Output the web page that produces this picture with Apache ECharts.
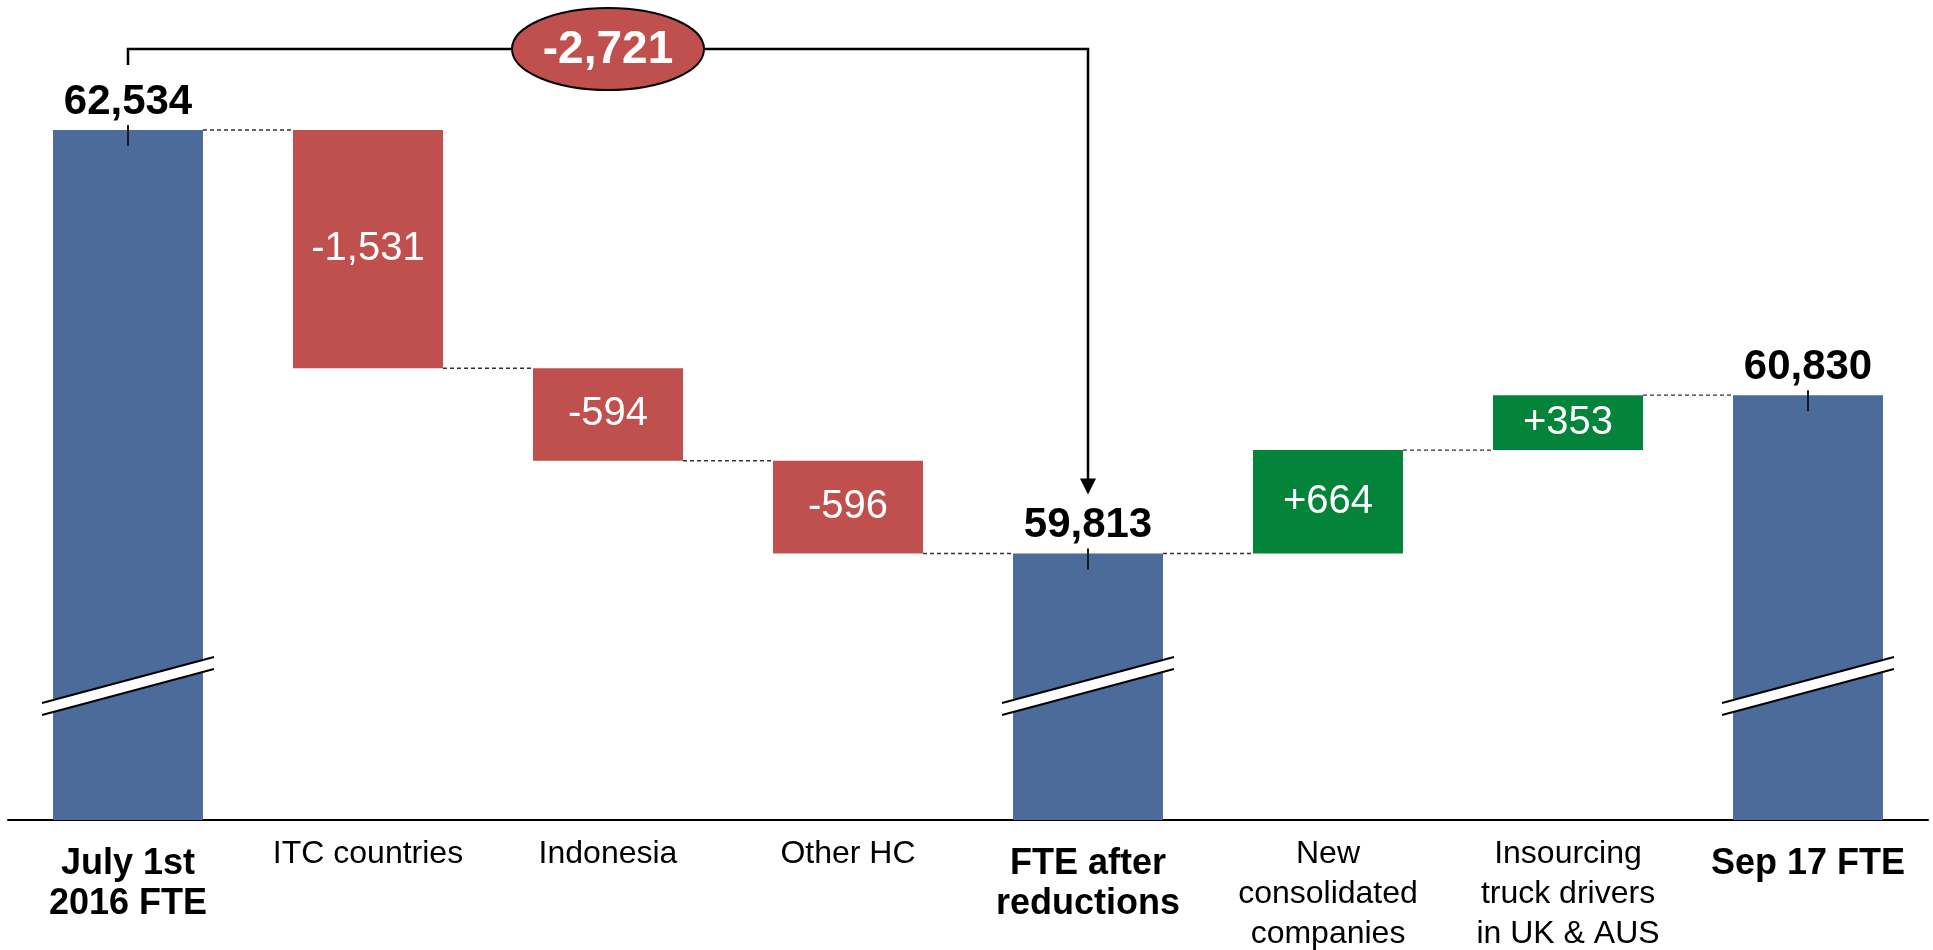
<!DOCTYPE html>
<html>
<head>
<meta charset="utf-8">
<script src="https://cdn.jsdelivr.net/npm/echarts@6/dist/echarts.min.js"></script>
<style>
  html, body { margin: 0; padding: 0; background: #fff; }
  #chart { width: 1933px; height: 950px; }
</style>
</head>
<body>
<div id="chart"></div>
<script>
// data
const categories = [
  "July 1st\n2016 FTE",
  "ITC countries",
  "Indonesia",
  "Other HC",
  "FTE after\nreductions",
  "New\nconsolidated\ncompanies",
  "Insourcing\ntruck drivers\nin UK & AUS",
  "Sep 17 FTE",
];
const steps = [62534, -1531, -594, -596, 59813, 664, 353, 60830];
const isTotal = [true, false, false, false, true, false, false, true];
const axisRange = [58100, 62534];

const BLUE = "#4B6B9B";
const RED = "#C0504D";
const GREEN = "#03843A";
const FONT = "Liberation Sans, Arial, sans-serif";
const BAR_W = 150;

const fmt = (v) => Math.abs(v).toLocaleString("en-US");
const signed = (v) => (v < 0 ? "-" : "+") + fmt(v);

// build waterfall stacks
const baseData = [];
const barData = [];
const levels = [];
const totalsPts = [];
let run = 0;
steps.forEach((v, i) => {
  if (isTotal[i]) {
    run = v;
    baseData.push(0);
    barData.push({
      value: v,
      itemStyle: { color: BLUE },
      label: {
        show: true,
        position: "top",
        distance: 7,
        formatter: fmt(v),
        color: "#000",
        fontSize: 42,
        fontWeight: "bold",
        fontFamily: FONT,
      },
    });
    totalsPts.push([i, v]);
  } else {
    const start = run;
    run += v;
    baseData.push(Math.min(start, run));
    barData.push({
      value: Math.abs(v),
      itemStyle: { color: v < 0 ? RED : GREEN },
      label: {
        show: true,
        position: "inside",
        formatter: signed(v),
        color: "#fff",
        fontSize: 40,
        fontFamily: FONT,
      },
    });
  }
  levels.push(run);
});
const connectorData = levels.slice(0, -1).map((l, i) => [i, l]);

// bracket from first total to "FTE after reductions"
const firstIdx = 0;
const midIdx = 4;
const bracketData = [[firstIdx, steps[firstIdx], midIdx, steps[midIdx]]];

const chart = echarts.init(document.getElementById("chart"));

const option = {
  animation: false,
  grid: { left: 8, right: 5, top: 130, bottom: 127 },
  xAxis: {
    type: "category",
    data: categories,
    axisLine: { lineStyle: { color: "#000", width: 2 } },
    axisTick: { show: false },
    axisLabel: {
      interval: 0,
      margin: 14,
      formatter: (val, idx) => {
        const lines = val.split("\n");
        if (isTotal[idx]) {
          return "{s| }\n" + lines.map((s) => "{b|" + s + "}").join("\n");
        }
        return lines.map((s) => "{r|" + s + "}").join("\n");
      },
      rich: {
        s: { fontSize: 2, lineHeight: 10 },
        b: { fontSize: 36, fontWeight: "bold", color: "#000", lineHeight: 40, fontFamily: FONT },
        r: { fontSize: 32, color: "#000", lineHeight: 40, fontFamily: FONT },
      },
    },
  },
  yAxis: {
    type: "value",
    min: axisRange[0],
    max: axisRange[1],
    show: false,
  },
  series: [
    {
      name: "base",
      type: "bar",
      stack: "w",
      barWidth: BAR_W,
      itemStyle: { color: "transparent" },
      data: baseData,
      silent: true,
    },
    {
      name: "change",
      type: "bar",
      stack: "w",
      barWidth: BAR_W,
      data: barData,
    },
    {
      // dashed connectors between bars
      name: "connectors",
      type: "custom",
      z: 1,
      data: connectorData,
      renderItem: (params, api) => {
        const p = api.coord([api.value(0), api.value(1)]);
        const w = api.size([1, 0])[0];
        return {
          type: "line",
          shape: { x1: p[0] + BAR_W / 2, y1: p[1], x2: p[0] + w - BAR_W / 2, y2: p[1] },
          style: { stroke: "#333", lineWidth: 1.4, lineDash: [4, 3] },
        };
      },
    },
    {
      // axis break marks on total bars
      name: "breaks",
      type: "custom",
      z: 5,
      data: totalsPts,
      renderItem: (params, api) => {
        const c = api.coord([api.value(0), axisRange[0]]);
        const x = c[0];
        const m = c[1] - 134;
        const dx = 86, dy = 23, g = 6;
        return {
          type: "group",
          children: [
            {
              type: "polygon",
              shape: { points: [[x - dx, m - g + dy], [x + dx, m - g - dy], [x + dx, m + g - dy], [x - dx, m + g + dy]] },
              style: { fill: "#fff" },
            },
            {
              type: "line",
              shape: { x1: x - dx, y1: m - g + dy, x2: x + dx, y2: m - g - dy },
              style: { stroke: "#000", lineWidth: 2 },
            },
            {
              type: "line",
              shape: { x1: x - dx, y1: m + g + dy, x2: x + dx, y2: m + g - dy },
              style: { stroke: "#000", lineWidth: 2 },
            },
          ],
        };
      },
    },
    {
      // small ticks at top of total bars
      name: "ticks",
      type: "custom",
      z: 5,
      data: totalsPts,
      renderItem: (params, api) => {
        const p = api.coord([api.value(0), api.value(1)]);
        return {
          type: "line",
          shape: { x1: p[0], y1: p[1] - 5, x2: p[0], y2: p[1] + 16 },
          style: { stroke: "#1a1a1a", lineWidth: 2 },
        };
      },
    },
    {
      // bracket with total reduction
      name: "bracket",
      type: "custom",
      z: 6,
      data: bracketData,
      renderItem: (params, api) => {
        const a = api.coord([api.value(0), axisRange[1]]);
        const b = api.coord([api.value(2), api.value(3)]);
        const yTop = a[1] - 81;
        const tipY = b[1] - 59;
        const cx = (a[0] + b[0]) / 2;
        const diff = api.value(3) - api.value(1);
        return {
          type: "group",
          children: [
            {
              type: "polyline",
              shape: { points: [[a[0], yTop + 16], [a[0], yTop], [b[0], yTop], [b[0], tipY - 12]] },
              style: { stroke: "#000", lineWidth: 2.5, fill: null },
            },
            {
              type: "polygon",
              shape: { points: [[b[0] - 8, tipY - 16], [b[0] + 8, tipY - 16], [b[0], tipY]] },
              style: { fill: "#000" },
            },
            {
              type: "ellipse",
              shape: { cx: cx, cy: yTop, rx: 96, ry: 41 },
              style: { fill: RED, stroke: "#000", lineWidth: 2 },
            },
            {
              type: "text",
              style: {
                text: signed(diff),
                x: cx,
                y: yTop + 1,
                align: "center",
                verticalAlign: "middle",
                fill: "#fff",
                fontSize: 46,
                fontWeight: "bold",
                fontFamily: FONT,
              },
            },
          ],
        };
      },
    },
  ],
};

chart.setOption(option);

window.onresize = function () {
  chart.resize();
};
</script>
</body>
</html>
